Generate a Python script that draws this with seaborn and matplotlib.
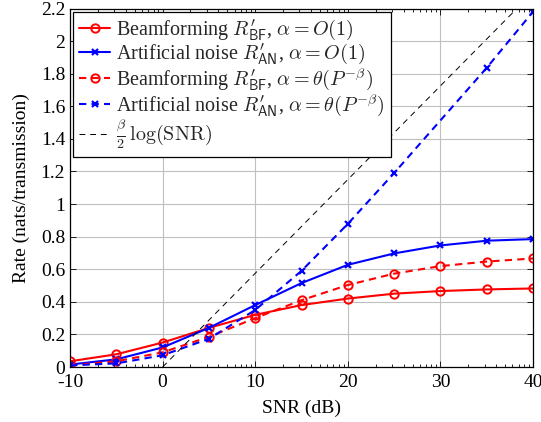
import numpy as np
import pandas as pd
import matplotlib
matplotlib.use("Agg")
import matplotlib.pyplot as plt
from matplotlib.ticker import FixedLocator, FuncFormatter
import seaborn as sns

# SNR grid (dB)
snr_db = [-10, -5, 0, 5, 10, 15, 20, 25, 30, 35, 40]

# Rates with alpha = O(1)
bf_const = [0.035, 0.078, 0.15, 0.24, 0.32, 0.38, 0.42, 0.45, 0.466, 0.476, 0.482]
an_const = [0.015, 0.047, 0.12, 0.24, 0.38, 0.515, 0.627, 0.697, 0.746, 0.775, 0.785]

# Rates with alpha = theta(P^-beta)
bf_scaled = [0.01, 0.035, 0.09, 0.185, 0.30, 0.41, 0.503, 0.573, 0.619, 0.647, 0.666]
snr_db_an_scaled = [-10, -5, 0, 5, 10, 15, 20, 25, 35, 40]
an_scaled = [0.01, 0.022, 0.072, 0.173, 0.35, 0.59, 0.878, 1.19, 1.836, 2.18]

# Reference slope (beta/2) log(SNR), linear in dB
ref_snr_db = [0, 40]
ref_rate = [0.0, 2.30]

x_ticks = [-10, 0, 10, 20, 30, 40]
y_ticks = [0, 0.2, 0.4, 0.6, 0.8, 1.0, 1.2, 1.4, 1.6, 1.8, 2.0, 2.2]

sns.set_theme(style="ticks")
plt.rcParams["font.family"] = ["Liberation Serif", "DejaVu Serif"]
plt.rcParams["mathtext.fontset"] = "cm"
plt.rcParams["axes.unicode_minus"] = False

fig = plt.figure(figsize=(5.41, 4.22), dpi=100)
ax = fig.add_axes([70 / 541, 1 - 367 / 422, 463 / 541, (367 - 8.5) / 422])

fs = 14
lw = 1.5

sns.lineplot(x=snr_db, y=bf_const, ax=ax, color="#ff0000", linewidth=lw,
             marker="o", markersize=6, markerfacecolor="none",
             markeredgecolor="#ff0000", markeredgewidth=1.4,
             label=r"Beamforming $R^{\prime}_{\mathsf{BF}}$, $\alpha = O(1)$")
sns.lineplot(x=snr_db, y=an_const, ax=ax, color="#0000ff", linewidth=lw,
             marker="x", markersize=4.5, markeredgecolor="#0000ff",
             markeredgewidth=1.6,
             label=r"Artificial noise $R^{\prime}_{\mathsf{AN}}$, $\alpha = O(1)$")
sns.lineplot(x=snr_db, y=bf_scaled, ax=ax, color="#ff0000", linewidth=lw,
             linestyle=(0, (3.5, 2.5)),
             marker="o", markersize=6, markerfacecolor="none",
             markeredgecolor="#ff0000", markeredgewidth=1.4,
             label=r"Beamforming $R^{\prime}_{\mathsf{BF}}$, $\alpha = \theta(P^{-\beta})$")
sns.lineplot(x=snr_db_an_scaled, y=an_scaled, ax=ax, color="#0000ff", linewidth=lw,
             linestyle=(0, (3.5, 2.5)),
             marker="x", markersize=4.5, markeredgecolor="#0000ff",
             markeredgewidth=1.6,
             label=r"Artificial noise $R^{\prime}_{\mathsf{AN}}$, $\alpha = \theta(P^{-\beta})$")
sns.lineplot(x=ref_snr_db, y=ref_rate, ax=ax, color="black", linewidth=0.7,
             linestyle=(0, (6, 5)),
             label=r"$\frac{\beta}{2}\,\log(\mathrm{SNR})$")

ax.set_xlim(-10, 40)
ax.set_ylim(0, 2.2)
ax.set_xticks(x_ticks)
ax.set_yticks(y_ticks)
ax.yaxis.set_major_formatter(FuncFormatter(lambda v, p: f"{v:g}"))

# log-style minor ticks within each 10 dB span
minor = []
for d in x_ticks[:-1]:
    minor += [d + 10 * np.log10(k) for k in range(2, 10)]
ax.xaxis.set_minor_locator(FixedLocator(minor))

ax.grid(True, which="major", color="#bfbfbf", linewidth=0.8)
ax.set_axisbelow(True)
for s in ax.spines.values():
    s.set_color("black")
    s.set_linewidth(0.9)
ax.tick_params(which="both", direction="in", top=True, right=True,
               colors="black", labelsize=fs, width=0.6)
ax.tick_params(which="major", length=4.5)
ax.tick_params(which="minor", length=2.5)
ax.tick_params(axis="x", pad=5)

ax.set_xlabel("SNR (dB)", fontsize=fs, color="black", labelpad=6)
ax.set_ylabel("Rate (nats/transmission)", fontsize=fs, color="black", labelpad=8)

leg = ax.legend(loc="upper left", fontsize=14.5, frameon=True, fancybox=False,
                edgecolor="black", framealpha=1, borderaxespad=0.15,
                handlelength=1.55, handletextpad=0.3, labelspacing=0.0,
                borderpad=0.3)
leg.get_frame().set_linewidth(0.9)

fig.savefig("out.png", dpi=100)
